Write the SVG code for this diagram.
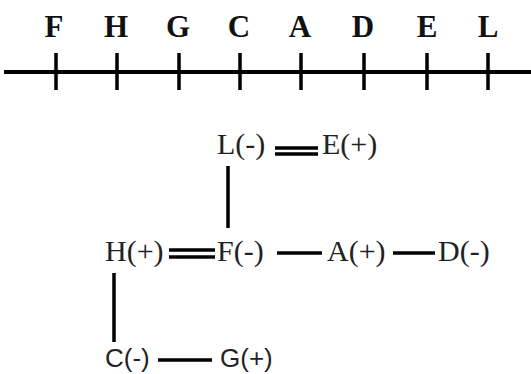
<svg xmlns="http://www.w3.org/2000/svg" width="531" height="374" viewBox="0 0 531 374">
<style>
.axis{stroke:#000;stroke-width:4;fill:none}
.tick{stroke:#000;stroke-width:3.5}
.lbl{font-family:"Liberation Serif",serif;font-weight:bold;font-size:31px;fill:#111;text-anchor:middle}
.t{font-family:"Liberation Serif",serif;font-size:30px;fill:#222}
.s{font-family:"Liberation Sans",sans-serif;font-size:26px;fill:#222}
.c{stroke:#000;stroke-width:3.5;fill:none}
</style>
<rect width="531" height="374" fill="#fff"/>
<g id="axis">
<line class="axis" x1="4" y1="72" x2="531" y2="72"/>
<g class="tick">
<line x1="56" y1="53" x2="56" y2="90"/>
<line x1="117" y1="53" x2="117" y2="90"/>
<line x1="179" y1="53" x2="179" y2="90"/>
<line x1="240" y1="53" x2="240" y2="90"/>
<line x1="301" y1="53" x2="301" y2="90"/>
<line x1="364" y1="53" x2="364" y2="90"/>
<line x1="427" y1="53" x2="427" y2="90"/>
<line x1="488" y1="53" x2="488" y2="90"/>
</g>
<text class="lbl" x="54" y="37">F</text>
<text class="lbl" x="116" y="37">H</text>
<text class="lbl" x="178" y="37">G</text>
<text class="lbl" x="239" y="37">C</text>
<text class="lbl" x="300" y="37">A</text>
<text class="lbl" x="363" y="37">D</text>
<text class="lbl" x="427" y="37">E</text>
<text class="lbl" x="488" y="37">L</text>
</g>
<g id="connectors">
<line class="c" x1="275" y1="148" x2="318" y2="148"/>
<line class="c" x1="275" y1="154" x2="318" y2="154"/>
<line class="c" x1="228" y1="166" x2="228" y2="228"/>
<line class="c" x1="169" y1="250" x2="215" y2="250"/>
<line class="c" x1="169" y1="257" x2="215" y2="257"/>
<line class="c" x1="277" y1="253" x2="322" y2="253"/>
<line class="c" x1="393" y1="253" x2="435" y2="253"/>
<line class="c" x1="114" y1="273" x2="114" y2="342"/>
<line class="c" x1="158" y1="360" x2="212" y2="360"/>
</g>
<g id="nL"><text class="t" x="217" y="154">L(-)</text></g>
<g id="nE"><text class="t" x="322" y="154">E(+)</text></g>
<g id="nH"><text class="t" x="105" y="261">H(+)</text></g>
<g id="nF"><text class="t" x="217" y="261">F(-)</text></g>
<g id="nA"><text class="t" x="327" y="261">A(+)</text></g>
<g id="nD"><text class="t" x="438" y="261">D(-)</text></g>
<g id="nC"><text class="s" x="105" y="367">C(-)</text></g>
<g id="nG"><text class="s" x="220" y="367">G(+)</text></g>
</svg>
